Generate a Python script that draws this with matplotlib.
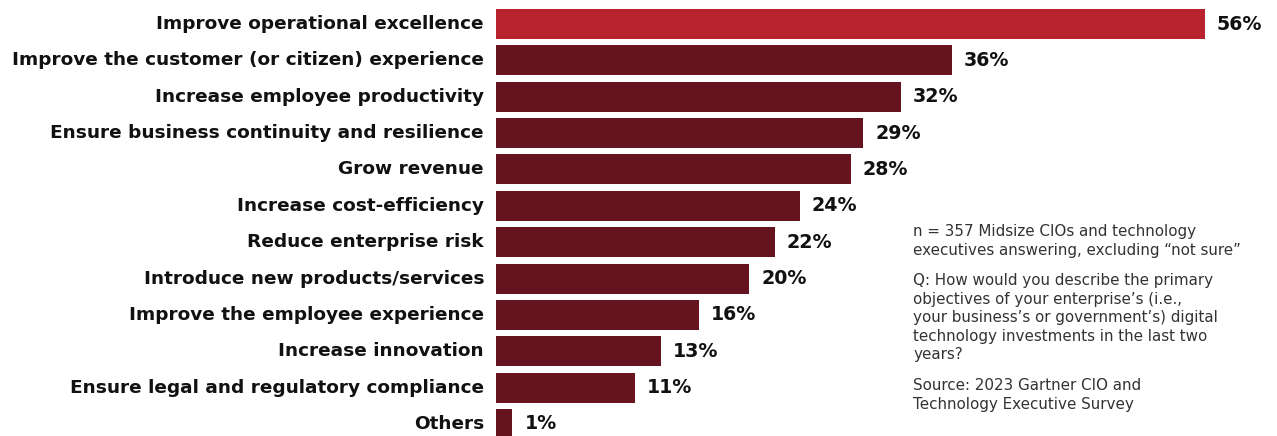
import matplotlib
matplotlib.use("Agg")
import matplotlib.pyplot as plt

categories = [
    "Improve operational excellence",
    "Improve the customer (or citizen) experience",
    "Increase employee productivity",
    "Ensure business continuity and resilience",
    "Grow revenue",
    "Increase cost-efficiency",
    "Reduce enterprise risk",
    "Introduce new products/services",
    "Improve the employee experience",
    "Increase innovation",
    "Ensure legal and regulatory compliance",
    "Others",
]
values = [56, 36, 32, 29, 28, 24, 22, 20, 16, 13, 11, 1.3]
value_labels = ["56%", "36%", "32%", "29%", "28%", "24%", "22%", "20%", "16%", "13%", "11%", "1%"]

note_n = "n = 357 Midsize CIOs and technology\nexecutives answering, excluding \u201cnot sure\u201d"
note_q = ("Q: How would you describe the primary\nobjectives of your enterprise\u2019s (i.e.,\n"
          "your business\u2019s or government\u2019s) digital\ntechnology investments in the last two\nyears?")
note_src = "Source: 2023 Gartner CIO and\nTechnology Executive Survey"

W, H = 1277, 436
fig = plt.figure(figsize=(W / 100, H / 100), dpi=100)
fig.patch.set_facecolor("white")

left_px, right_px = 496, 1205
top_px = 24 - 0.5 * 36.36
ax = fig.add_axes([left_px / W, 0, (right_px - left_px) / W, 1 - top_px / H])
n = len(categories)
ypos = list(range(n))
colors = ["#B8232F"] + ["#65131F"] * (n - 1)
ax.barh(ypos, values, height=0.825, color=colors, zorder=2)
ax.set_xlim(0, 56)
ax.set_ylim(11 + (H - 424) / 36.36, -0.5)
ax.axis("off")

fam = ["DejaVu Sans"]
for y, lab, v, vl in zip(ypos, categories, values, value_labels):
    ax.annotate(lab, xy=(0, y), xytext=(-12, 0), textcoords="offset pixels",
                ha="right", va="center", fontsize=13.3, fontweight="bold",
                family=fam, color="#111111", annotation_clip=False)
    ax.annotate(vl, xy=(v, y), xytext=(12, 0), textcoords="offset pixels",
                ha="left", va="center", fontsize=13.7, fontweight="bold",
                family=fam, color="#111111", annotation_clip=False)

tx = 913 / W
kw = dict(fontsize=10.9, family=["DejaVu Sans"], color="#333333",
          va="top", ha="left", linespacing=1.3)
fig.text(tx, 1 - 224 / H, note_n, **kw)
fig.text(tx, 1 - 273 / H, note_q, **kw)
fig.text(tx, 1 - 378 / H, note_src, **kw)

fig.savefig("out.png", dpi=100, facecolor="white")
